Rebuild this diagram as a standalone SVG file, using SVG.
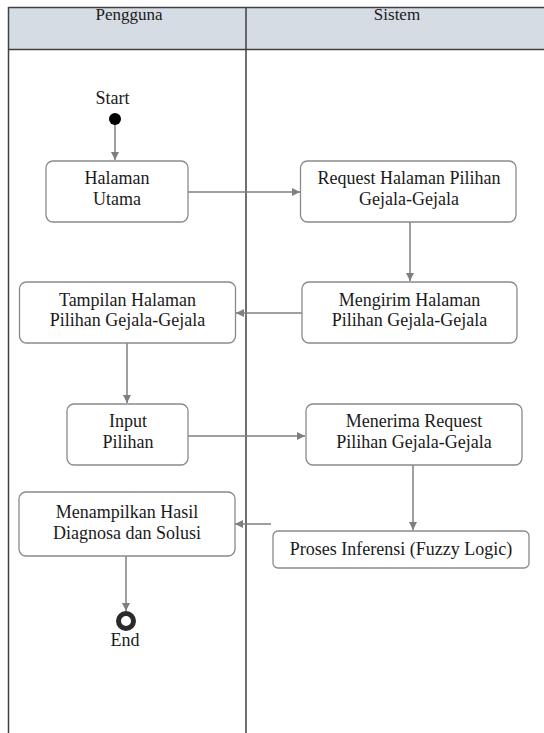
<svg xmlns="http://www.w3.org/2000/svg" width="544" height="733" viewBox="0 0 544 733">
<style>
.lane{stroke:#404040;stroke-width:1.5;fill:none}
.box{fill:#ffffff;stroke:#8a8a8a;stroke-width:1.3}
.t{font-family:'Liberation Serif','Times New Roman','DejaVu Serif',serif;font-size:18px;fill:#1a1a1a;text-anchor:middle}
.h{font-family:'Liberation Serif','Times New Roman','DejaVu Serif',serif;font-size:17px;fill:#1a1a1a;text-anchor:middle}
.c{stroke:#7f7f7f;stroke-width:1.5;fill:none;marker-end:url(#arr)}
</style>
<defs>
<marker id="arr" markerUnits="userSpaceOnUse" markerWidth="9" markerHeight="8" refX="8" refY="4" orient="auto">
<path d="M0,0 L8,4 L0,8 Z" fill="#7f7f7f"/>
</marker>
</defs>
<rect width="544" height="733" fill="#ffffff"/>
<g id="lanes">
<rect x="8.5" y="7.5" width="540" height="42" fill="#d6dce4"/>
<line class="lane" x1="8.5" y1="7.5" x2="544" y2="7.5"/>
<line class="lane" x1="8.5" y1="49.5" x2="544" y2="49.5"/>
<line class="lane" x1="8.5" y1="7" x2="8.5" y2="733"/>
<line class="lane" x1="246" y1="7" x2="246" y2="733"/>
<text class="h" x="129" y="20" font-family="Liberation Serif, serif">Pengguna</text>
<text class="h" x="397" y="20" font-family="Liberation Serif, serif">Sistem</text>
</g>
<g id="connectors">
<line class="c" x1="115" y1="124" x2="115" y2="160"/>
<line class="c" x1="188" y1="192" x2="300" y2="192"/>
<line class="c" x1="410" y1="222" x2="410" y2="281"/>
<line class="c" x1="302" y1="313" x2="236" y2="313"/>
<line class="c" x1="127" y1="343" x2="127" y2="403"/>
<line class="c" x1="188" y1="436" x2="305" y2="436"/>
<line class="c" x1="413" y1="465" x2="413" y2="530"/>
<line class="c" x1="271" y1="524" x2="235" y2="524"/>
<line class="c" x1="126" y1="556" x2="126" y2="611"/>
</g>
<g id="start">
<text class="t" x="112.5" y="104">Start</text>
<circle cx="115" cy="119" r="6" fill="#000000"/>
</g>
<g id="halaman-utama">
<rect class="box" x="46" y="161" width="142" height="61" rx="7"/>
<text class="t" x="117" y="184">Halaman</text>
<text class="t" x="117" y="205">Utama</text>
</g>
<g id="request">
<rect class="box" x="300.5" y="161" width="215.5" height="61" rx="7"/>
<text class="t" x="409" y="184">Request Halaman Pilihan</text>
<text class="t" x="409" y="205">Gejala-Gejala</text>
</g>
<g id="mengirim">
<rect class="box" x="302" y="282" width="215" height="61" rx="7"/>
<text class="t" x="409.5" y="306">Mengirim Halaman</text>
<text class="t" x="409.5" y="326">Pilihan Gejala-Gejala</text>
</g>
<g id="tampilan">
<rect class="box" x="19.5" y="282" width="216" height="61" rx="7"/>
<text class="t" x="127.5" y="306">Tampilan Halaman</text>
<text class="t" x="127.5" y="326">Pilihan Gejala-Gejala</text>
</g>
<g id="input">
<rect class="box" x="67" y="404" width="121" height="61" rx="7"/>
<text class="t" x="128" y="427">Input</text>
<text class="t" x="128" y="448">Pilihan</text>
</g>
<g id="menerima">
<rect class="box" x="306" y="404" width="216" height="61" rx="7"/>
<text class="t" x="414" y="427">Menerima Request</text>
<text class="t" x="414" y="448">Pilihan Gejala-Gejala</text>
</g>
<g id="menampilkan">
<rect class="box" x="19" y="492" width="216" height="64" rx="7"/>
<text class="t" x="127" y="518">Menampilkan Hasil</text>
<text class="t" x="127" y="539">Diagnosa dan Solusi</text>
</g>
<g id="proses">
<rect class="box" x="273" y="531" width="256" height="37" rx="5"/>
<text class="t" x="401" y="555">Proses Inferensi (Fuzzy Logic)</text>
</g>
<g id="end">
<circle cx="126" cy="621" r="7.5" fill="none" stroke="#2a2a2a" stroke-width="5"/>
<text class="t" x="125" y="646">End</text>
</g>
</svg>
